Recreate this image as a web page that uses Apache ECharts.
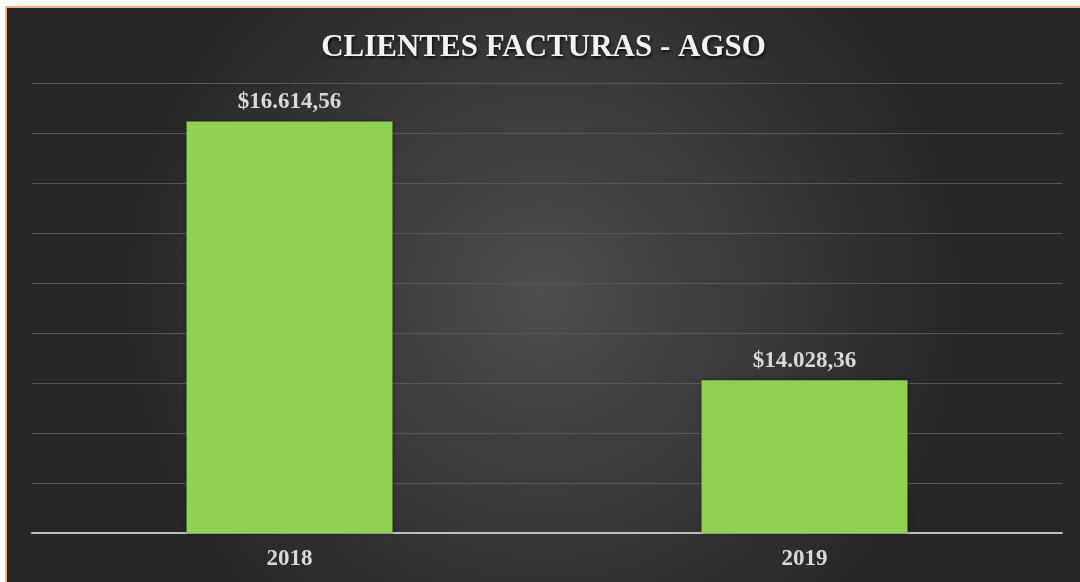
<!DOCTYPE html>
<html>
<head>
<meta charset="utf-8">
<script src="https://cdn.jsdelivr.net/npm/echarts@6/dist/echarts.min.js"></script>
<style>
  html, body { margin: 0; padding: 0; background: #ffffff; }
  #wrap {
    position: absolute; left: 5px; top: 6px;
    width: 1073px; height: 574px;
    border-left: 2px solid #F4B183; border-top: 2px solid #F4B183;
  }
  #container { width: 1073px; height: 574px; }
</style>
</head>
<body>
<div id="wrap"><div id="container"></div></div>
<script>
// datos
var years = ['2018', '2019'];
var facturas = [16614.56, 14028.36];
var yMin = 12500, yMax = 17000, yStep = 500;

var serif = '"Liberation Serif", "DejaVu Serif", serif';

function fmtMoney(v) {
    var parts = v.toFixed(2).split('.');
    var ent = parts[0].replace(/\B(?=(\d{3})+(?!\d))/g, '.');
    return '$' + ent + ',' + parts[1];
}

var myChart = echarts.init(document.getElementById('container'));

var option = {
    backgroundColor: {
        type: 'radial', x: 0.5, y: 0.5, r: 0.75,
        colorStops: [
            { offset: 0, color: '#4e4e4e' },
            { offset: 1, color: '#262626' }
        ]
    },
    title: {
        text: 'CLIENTES FACTURAS - AGSO',
        left: 'center',
        top: 19,
        textStyle: {
            fontFamily: serif,
            fontWeight: 'bold',
            fontSize: 31,
            color: '#f2f2f2',
            textShadowColor: 'rgba(0,0,0,0.8)',
            textShadowBlur: 3,
            textShadowOffsetX: 1,
            textShadowOffsetY: 2
        }
    },
    grid: { left: 25, right: 18, top: 75, height: 450 },
    xAxis: {
        type: 'category',
        data: years,
        axisTick: { show: false },
        axisLine: { lineStyle: { color: '#bfbfbf', width: 2 } },
        axisLabel: {
            margin: 15,
            fontFamily: serif,
            fontWeight: 'bold',
            fontSize: 23,
            color: '#d9d9d9'
        }
    },
    yAxis: {
        type: 'value',
        min: yMin,
        max: yMax,
        interval: yStep,
        axisLabel: { show: false },
        axisLine: { show: false },
        axisTick: { show: false },
        splitLine: { lineStyle: { color: '#575757', width: 1 } }
    },
    series: [{
        type: 'bar',
        data: facturas,
        barWidth: '40%',
        itemStyle: {
            color: '#92D050',
            shadowColor: 'rgba(0,0,0,0.5)',
            shadowBlur: 4
        },
        label: {
            show: true,
            position: 'top',
            distance: 8,
            formatter: function (p) { return fmtMoney(p.value); },
            fontFamily: serif,
            fontWeight: 'bold',
            fontSize: 23,
            color: '#d9d9d9'
        }
    }]
};
myChart.setOption(option);
</script>
</body>
</html>
